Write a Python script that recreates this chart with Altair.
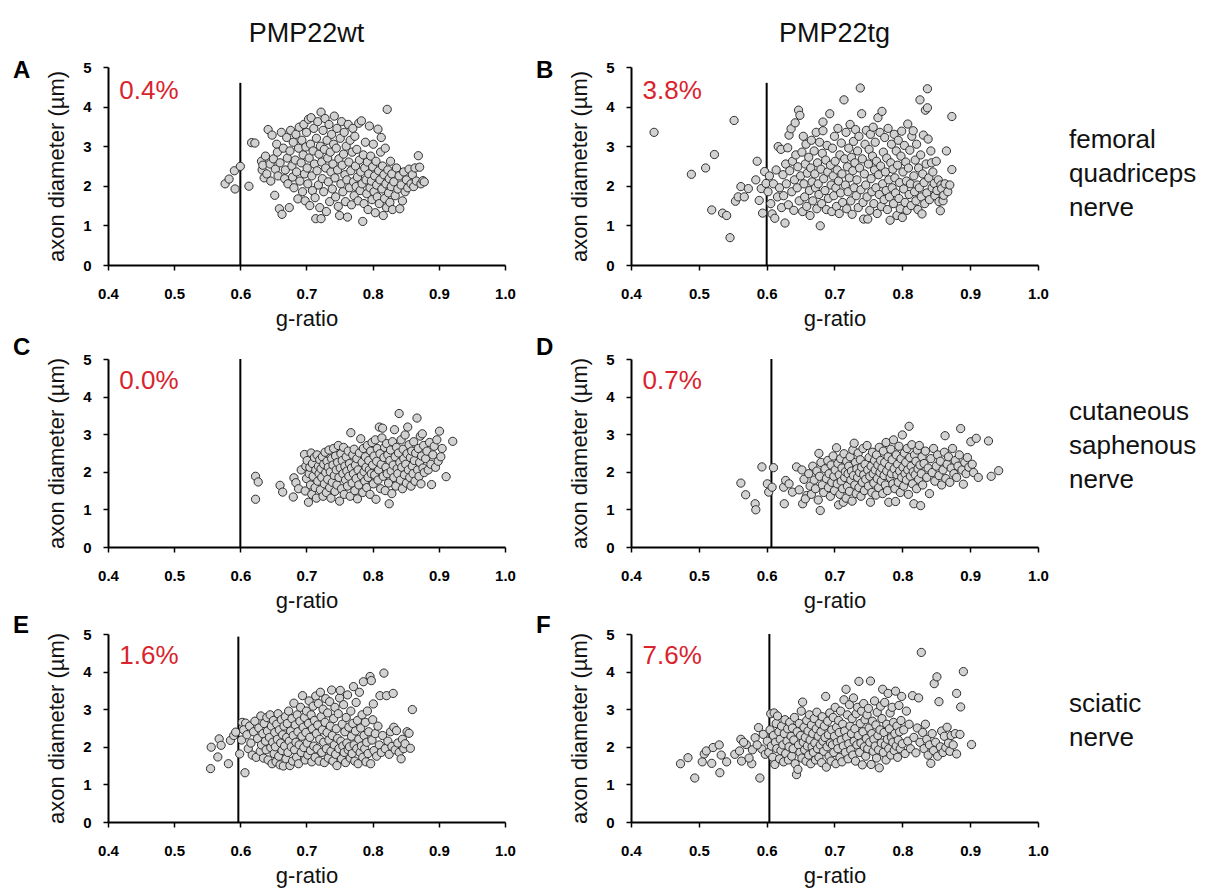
import altair as alt
import pandas as pd

# ---------------- text / tick values ----------------
X_TICKS = [0.4, 0.5, 0.6, 0.7, 0.8, 0.9, 1.0]
Y_TICKS = [0, 1, 2, 3, 4, 5]
COLUMN_TITLES = ["PMP22wt", "PMP22tg"]
ROW_LABELS = [["femoral", "quadriceps", "nerve"],
              ["cutaneous", "saphenous", "nerve"],
              ["sciatic", "nerve"]]
LETTERS = ["A", "B", "C", "D", "E", "F"]
PERCENTS = ["0.4%", "3.8%", "0.0%", "0.7%", "1.6%", "7.6%"]
CUTOFFS = [0.600, 0.600, 0.600, 0.607, 0.597, 0.604]
CUTOFF_TOPS = [4.6, 4.6, 5.0, 5.0, 4.93, 5.0]

# ---------------- scatter values (g-ratio, axon diameter) ----------------
A_PTS = [
    (0.577, 2.05), (0.583, 2.17), (0.591, 2.38), (0.600, 2.49), (0.592, 1.92), (0.613, 1.99), (0.617, 3.09), (0.622, 3.08),
    (0.632, 2.62), (0.633, 2.40), (0.636, 2.20), (0.634, 2.52), (0.638, 2.75), (0.640, 2.30), (0.642, 3.42), (0.645, 2.55),
    (0.646, 2.12), (0.648, 3.28), (0.650, 2.68), (0.652, 1.76), (0.653, 2.42), (0.655, 3.05), (0.656, 2.85), (0.657, 2.25),
    (0.659, 1.42), (0.660, 2.58), (0.662, 3.35), (0.663, 1.28),
    (0.665, 2.95), (0.667, 2.18), (0.668, 2.40), (0.670, 3.22), (0.671, 2.70), (0.672, 2.05), (0.674, 1.45), (0.675, 2.88),
    (0.676, 3.40), (0.678, 2.50), (0.679, 2.22), (0.680, 3.10), (0.681, 1.95), (0.683, 2.65), (0.684, 3.30), (0.685, 2.35),
    (0.687, 1.67), (0.688, 2.95), (0.689, 3.48), (0.690, 2.12),
    (0.692, 2.58), (0.693, 3.15), (0.694, 1.85), (0.695, 2.78), (0.696, 3.55), (0.697, 2.30), (0.698, 1.62), (0.699, 2.98),
    (0.700, 3.35), (0.701, 2.45), (0.702, 2.05), (0.703, 3.68), (0.704, 2.70), (0.705, 1.50), (0.706, 3.05), (0.707, 3.72),
    (0.708, 2.25), (0.709, 1.88), (0.710, 2.88), (0.711, 3.45),
    (0.712, 2.55), (0.713, 1.70), (0.714, 1.17), (0.715, 3.20), (0.716, 2.38), (0.717, 3.62), (0.718, 2.02), (0.719, 2.80),
    (0.720, 1.45), (0.721, 3.00), (0.722, 3.86), (0.722, 1.17), (0.723, 2.60), (0.724, 2.18), (0.725, 3.40), (0.726, 1.85),
    (0.727, 2.92), (0.728, 3.70), (0.729, 2.45), (0.730, 1.35),
    (0.731, 3.15), (0.732, 2.70), (0.733, 2.10), (0.734, 3.55), (0.735, 1.60), (0.736, 2.85), (0.737, 2.35), (0.738, 3.30),
    (0.739, 1.92), (0.740, 2.55), (0.741, 3.05), (0.742, 3.76), (0.743, 2.20), (0.744, 1.72), (0.745, 2.95), (0.746, 3.45),
    (0.747, 2.40), (0.748, 1.48), (0.749, 2.68), (0.750, 1.25),
    (0.751, 3.20), (0.752, 2.05), (0.753, 3.62), (0.754, 2.52), (0.755, 1.85), (0.756, 2.80), (0.757, 3.35), (0.758, 2.28),
    (0.759, 1.60), (0.760, 3.00), (0.761, 2.15), (0.762, 1.21), (0.763, 3.55), (0.764, 2.60), (0.765, 1.95), (0.766, 3.15),
    (0.767, 2.38), (0.768, 1.52), (0.769, 2.85), (0.770, 3.45),
    (0.771, 2.10), (0.772, 1.75), (0.773, 3.25), (0.774, 2.50), (0.775, 1.98), (0.776, 2.92), (0.777, 2.22), (0.778, 1.62),
    (0.779, 3.58), (0.780, 2.65), (0.781, 1.88), (0.782, 2.35), (0.783, 3.64), (0.784, 2.05), (0.785, 1.10), (0.786, 2.78),
    (0.787, 1.55), (0.788, 2.45), (0.789, 3.10), (0.790, 2.15),
    (0.791, 1.80), (0.792, 2.60), (0.793, 1.40), (0.794, 2.30), (0.795, 3.51), (0.796, 1.95), (0.797, 2.75), (0.798, 2.12),
    (0.799, 1.65), (0.800, 2.48), (0.801, 3.05), (0.802, 1.85), (0.803, 2.25), (0.804, 1.32), (0.805, 2.62), (0.806, 2.02),
    (0.807, 1.72), (0.808, 3.43), (0.809, 2.38), (0.810, 1.55),
    (0.811, 2.15), (0.812, 2.85), (0.813, 3.22), (0.814, 1.92), (0.815, 2.50), (0.816, 1.25), (0.817, 2.28), (0.818, 1.68),
    (0.819, 2.95), (0.820, 2.05), (0.821, 1.45), (0.822, 3.93), (0.823, 2.40), (0.824, 1.82), (0.825, 2.18), (0.826, 1.58),
    (0.827, 2.62), (0.828, 1.98), (0.829, 2.30), (0.830, 1.40),
    (0.832, 2.10), (0.834, 1.75), (0.836, 2.45), (0.838, 1.92), (0.840, 2.25), (0.841, 1.42), (0.843, 2.02), (0.845, 1.62),
    (0.847, 2.35), (0.849, 1.85), (0.851, 2.15), (0.853, 1.95), (0.855, 2.42), (0.858, 2.05), (0.860, 2.28), (0.862, 1.98),
    (0.864, 2.45), (0.866, 2.12), (0.869, 2.76), (0.871, 2.47), (0.873, 2.05), (0.876, 2.13), (0.878, 2.10),
]

B_PTS = [
    (0.434, 3.35), (0.489, 2.29), (0.510, 2.45), (0.523, 2.79), (0.519, 1.39), (0.535, 1.31), (0.541, 1.25), (0.546, 0.69),
    (0.552, 3.65), (0.554, 1.61), (0.558, 1.72), (0.562, 1.98), (0.567, 1.72), (0.573, 1.93), (0.586, 2.62), (0.584, 2.15),
    (0.589, 1.63), (0.592, 1.93), (0.594, 1.31), (0.597, 2.36), (0.599, 2.06), (0.602, 1.85), (0.604, 2.25), (0.606, 1.55),
    (0.608, 1.29), (0.610, 2.05), (0.612, 1.18), (0.614, 2.40), (0.616, 1.72),
    (0.617, 2.99), (0.619, 1.95), (0.621, 2.92), (0.622, 1.45), (0.624, 2.28), (0.625, 1.75), (0.627, 1.06), (0.628, 2.55),
    (0.629, 2.05), (0.631, 2.96), (0.632, 1.52), (0.633, 3.28), (0.634, 2.38), (0.636, 3.44), (0.637, 1.85), (0.638, 2.62),
    (0.640, 1.38), (0.641, 2.15), (0.642, 3.59), (0.643, 2.78), (0.645, 1.95), (0.646, 2.48), (0.647, 3.91), (0.648, 1.62),
    (0.649, 3.78), (0.650, 2.25),
    (0.652, 2.85), (0.653, 1.35), (0.654, 3.25), (0.655, 2.05), (0.656, 1.72), (0.657, 2.55), (0.658, 3.05), (0.659, 1.48),
    (0.660, 2.32), (0.662, 2.72), (0.663, 1.88), (0.664, 1.25), (0.665, 2.45), (0.666, 3.15), (0.667, 2.10), (0.668, 1.62),
    (0.670, 2.88), (0.671, 2.30), (0.672, 1.95), (0.673, 3.35), (0.674, 1.42), (0.675, 2.58), (0.676, 2.05), (0.677, 1.78),
    (0.678, 3.10), (0.679, 0.99), (0.680, 2.42),
    (0.681, 1.55), (0.682, 2.82), (0.683, 3.61), (0.683, 3.39), (0.684, 2.18), (0.686, 1.88), (0.687, 2.65), (0.688, 1.40),
    (0.689, 3.02), (0.690, 2.35), (0.691, 1.68), (0.693, 3.82), (0.694, 2.52), (0.695, 2.02), (0.696, 1.35), (0.697, 2.95),
    (0.698, 2.25), (0.699, 1.75), (0.700, 3.25), (0.701, 2.62), (0.702, 1.95), (0.703, 1.48), (0.704, 2.40), (0.705, 3.45),
    (0.706, 2.12), (0.707, 1.30), (0.708, 2.78), (0.709, 1.82), (0.710, 3.08), (0.711, 2.30), (0.712, 1.58), (0.714, 4.17),
    (0.715, 2.68), (0.716, 2.02), (0.717, 3.35), (0.718, 1.42), (0.719, 2.48),
    (0.720, 1.85), (0.721, 2.95), (0.722, 2.20), (0.723, 3.55), (0.724, 1.62), (0.725, 2.72), (0.726, 1.28), (0.727, 2.38),
    (0.728, 3.12), (0.729, 1.95), (0.730, 2.58), (0.731, 3.42), (0.732, 1.75), (0.733, 2.15), (0.734, 2.88), (0.735, 1.45),
    (0.736, 3.25), (0.737, 2.45), (0.738, 4.47), (0.739, 1.90), (0.740, 3.82), (0.741, 2.68), (0.742, 1.58), (0.743, 1.16),
    (0.744, 2.30), (0.745, 3.05), (0.746, 2.02), (0.747, 3.40), (0.748, 1.72), (0.749, 1.16), (0.750, 2.55), (0.751, 2.92),
    (0.752, 1.38), (0.753, 3.30), (0.754, 2.18), (0.755, 1.85), (0.756, 2.75), (0.757, 3.48), (0.758, 1.55), (0.759, 2.40),
    (0.760, 3.10), (0.761, 1.95), (0.762, 2.62), (0.763, 1.30), (0.764, 3.72), (0.765, 2.28), (0.766, 1.78), (0.767, 3.35),
    (0.768, 2.50), (0.769, 1.48), (0.770, 3.88), (0.771, 2.05), (0.772, 2.85), (0.773, 1.65), (0.774, 3.22), (0.775, 2.35),
    (0.776, 1.88), (0.777, 2.70), (0.778, 1.40), (0.779, 3.45), (0.780, 2.15), (0.781, 1.72), (0.782, 1.13), (0.783, 2.58),
    (0.784, 3.05), (0.785, 1.95), (0.786, 2.42), (0.787, 1.55), (0.788, 3.30), (0.789, 2.20), (0.790, 1.82), (0.791, 2.88),
    (0.792, 1.25), (0.793, 2.52), (0.794, 3.15), (0.795, 1.68), (0.796, 2.08), (0.797, 1.42), (0.798, 2.75), (0.799, 3.38),
    (0.800, 1.20), (0.801, 2.35), (0.802, 1.92), (0.803, 3.02), (0.804, 1.58), (0.805, 2.60), (0.806, 2.12), (0.807, 1.38),
    (0.808, 3.56), (0.809, 2.45), (0.810, 1.78), (0.811, 2.90), (0.812, 2.05), (0.813, 1.50), (0.814, 3.25), (0.816, 3.39),
    (0.817, 2.25), (0.818, 1.85), (0.819, 2.65), (0.820, 1.62), (0.821, 3.05), (0.822, 2.02), (0.823, 1.40), (0.824, 2.45),
    (0.825, 1.95), (0.826, 4.17), (0.827, 2.78), (0.828, 1.72), (0.829, 1.29), (0.830, 2.30), (0.831, 3.28), (0.832, 2.08),
    (0.833, 1.55), (0.834, 3.91), (0.835, 2.55), (0.836, 1.82), (0.837, 4.45), (0.837, 3.97), (0.838, 3.18), (0.839, 2.20),
    (0.840, 1.65), (0.842, 2.88), (0.843, 2.58), (0.844, 1.95), (0.845, 2.35), (0.847, 2.06), (0.848, 1.75), (0.850, 2.62),
    (0.851, 1.88), (0.853, 2.15), (0.854, 1.60), (0.856, 1.37), (0.857, 2.02), (0.858, 1.93), (0.860, 1.62), (0.861, 1.76),
    (0.863, 2.05), (0.865, 2.88), (0.867, 1.85), (0.870, 2.02), (0.873, 2.41), (0.873, 3.75),
]

C_PTS = [
    (0.623, 1.88), (0.627, 1.73), (0.623, 1.27), (0.660, 1.64), (0.664, 1.46), (0.681, 1.84), (0.680, 1.33), (0.684, 1.71),
    (0.688, 1.55), (0.692, 2.05),
    (0.697, 2.46), (0.698, 1.49), (0.699, 2.15), (0.700, 1.82), (0.701, 2.30), (0.703, 1.19), (0.704, 1.95), (0.705, 2.12),
    (0.706, 1.65), (0.707, 2.50), (0.708, 1.40), (0.709, 2.22), (0.710, 1.88), (0.712, 2.38), (0.713, 1.58), (0.714, 2.05),
    (0.715, 1.30), (0.716, 2.45), (0.717, 1.75), (0.718, 2.15), (0.719, 1.95), (0.720, 2.32), (0.721, 1.52), (0.722, 2.08),
    (0.723, 1.85), (0.724, 2.40), (0.725, 1.35), (0.726, 2.20), (0.727, 1.68), (0.728, 2.52), (0.729, 1.98), (0.730, 1.45),
    (0.731, 2.28), (0.732, 1.80), (0.733, 2.12), (0.734, 2.58), (0.735, 1.58), (0.736, 2.00), (0.737, 1.30), (0.738, 2.35),
    (0.739, 1.72), (0.740, 2.18), (0.741, 2.62), (0.742, 1.90), (0.743, 1.48), (0.744, 2.42), (0.745, 2.05), (0.746, 1.65),
    (0.747, 2.25), (0.748, 2.70), (0.749, 1.85), (0.750, 1.22), (0.751, 2.10), (0.752, 2.48), (0.753, 1.55), (0.754, 2.30),
    (0.755, 1.95), (0.756, 2.65), (0.757, 1.40), (0.758, 2.15), (0.759, 1.78), (0.760, 2.40), (0.761, 2.02), (0.762, 1.62),
    (0.763, 2.55), (0.764, 1.88), (0.765, 2.22), (0.766, 1.35), (0.767, 3.04), (0.768, 2.10), (0.769, 1.70), (0.770, 2.45),
    (0.771, 1.95), (0.772, 2.60), (0.773, 1.50), (0.774, 2.18), (0.775, 1.82), (0.776, 2.35), (0.777, 1.28), (0.778, 2.05),
    (0.779, 1.65), (0.780, 2.50), (0.782, 2.88), (0.783, 1.90), (0.784, 2.25), (0.785, 1.45), (0.786, 2.62), (0.787, 2.00),
    (0.788, 1.75), (0.789, 2.40), (0.790, 2.12), (0.791, 1.58), (0.792, 2.70), (0.793, 1.85), (0.794, 2.30), (0.795, 2.05),
    (0.796, 1.40), (0.797, 2.55), (0.798, 1.95), (0.799, 2.78), (0.800, 2.18), (0.801, 1.68), (0.802, 2.42), (0.803, 1.92),
    (0.804, 2.85), (0.805, 1.27), (0.806, 2.28), (0.807, 2.62), (0.808, 1.78), (0.809, 2.05), (0.810, 3.19), (0.811, 2.48),
    (0.812, 1.55), (0.813, 2.20), (0.814, 2.90), (0.815, 3.16), (0.816, 1.88), (0.817, 2.38), (0.818, 2.65), (0.819, 1.50),
    (0.820, 2.12), (0.821, 2.75), (0.822, 1.95), (0.823, 2.45), (0.824, 1.70), (0.825, 1.15), (0.826, 2.30), (0.827, 2.58),
    (0.828, 2.02), (0.829, 1.42), (0.830, 2.80), (0.831, 2.18), (0.832, 1.85), (0.833, 3.12), (0.834, 2.40), (0.835, 1.62),
    (0.836, 2.65), (0.837, 2.08), (0.838, 1.95), (0.839, 2.50), (0.840, 3.55), (0.841, 2.25), (0.842, 1.78), (0.843, 2.85),
    (0.844, 2.12), (0.845, 1.55), (0.846, 2.60), (0.847, 2.35), (0.848, 1.92), (0.849, 2.98), (0.850, 2.20), (0.851, 1.70),
    (0.852, 2.48), (0.853, 3.19), (0.854, 2.05), (0.855, 2.72), (0.856, 1.85), (0.857, 2.38), (0.858, 1.62), (0.859, 2.55),
    (0.860, 2.15), (0.861, 1.95), (0.862, 2.80), (0.863, 2.30), (0.864, 1.75), (0.865, 2.50), (0.867, 3.43), (0.868, 2.05),
    (0.869, 2.62), (0.870, 1.88), (0.871, 2.25), (0.872, 2.95), (0.873, 1.68), (0.874, 2.42), (0.875, 3.01), (0.876, 2.10),
    (0.877, 2.70), (0.878, 1.98), (0.880, 2.35), (0.882, 2.55), (0.884, 2.05), (0.886, 2.78), (0.888, 2.20), (0.889, 1.66),
    (0.891, 2.45), (0.893, 2.68), (0.895, 2.12), (0.897, 2.85), (0.899, 2.28), (0.901, 3.08), (0.903, 2.40), (0.905, 2.62),
    (0.911, 1.87), (0.921, 2.81),
]

D_PTS = [
    (0.562, 1.70), (0.569, 1.39), (0.583, 1.15), (0.584, 0.99), (0.593, 2.13), (0.610, 2.11), (0.601, 1.68), (0.603, 1.46),
    (0.608, 1.59), (0.626, 1.15), (0.625, 1.59), (0.628, 1.77), (0.633, 1.68), (0.638, 1.46), (0.644, 2.13), (0.653, 1.15),
    (0.659, 1.37), (0.679, 0.97), (0.677, 2.49), (0.648, 1.52), (0.652, 2.05), (0.655, 1.80), (0.657, 1.28), (0.662, 1.95),
    (0.664, 1.62),
    (0.666, 1.40), (0.668, 2.15), (0.670, 1.78), (0.672, 1.55), (0.674, 2.02), (0.676, 1.25), (0.678, 1.88), (0.680, 2.25),
    (0.682, 1.65), (0.684, 1.45), (0.686, 2.08), (0.688, 1.82), (0.690, 2.30), (0.691, 1.58), (0.692, 1.95), (0.694, 1.35),
    (0.695, 2.18), (0.696, 1.72), (0.698, 2.42), (0.699, 1.88), (0.700, 1.50), (0.701, 2.05), (0.703, 2.64), (0.704, 1.68),
    (0.705, 2.22), (0.706, 1.12), (0.707, 1.92), (0.708, 1.40), (0.709, 2.35), (0.710, 1.75), (0.711, 2.10), (0.712, 1.55),
    (0.713, 1.19), (0.714, 2.48), (0.715, 1.85), (0.716, 2.00), (0.717, 1.30), (0.718, 2.28), (0.719, 1.62), (0.720, 1.95),
    (0.721, 2.15), (0.722, 1.48), (0.723, 2.40), (0.724, 1.78), (0.725, 2.02), (0.726, 1.22), (0.727, 2.58), (0.728, 1.90),
    (0.729, 2.76), (0.730, 1.65), (0.731, 2.25), (0.732, 1.42), (0.733, 2.08), (0.734, 1.85), (0.735, 2.50), (0.736, 1.58),
    (0.737, 1.98), (0.738, 2.32), (0.739, 1.35), (0.740, 2.12), (0.741, 1.72), (0.742, 2.62), (0.743, 1.92), (0.744, 1.50),
    (0.745, 2.20), (0.746, 1.80), (0.748, 2.70), (0.749, 2.05), (0.750, 1.62), (0.751, 2.38), (0.752, 1.88), (0.753, 1.19),
    (0.754, 2.15), (0.755, 1.45), (0.756, 2.52), (0.757, 1.95), (0.758, 1.70), (0.759, 2.30), (0.760, 2.05), (0.761, 1.38),
    (0.762, 2.45), (0.763, 1.82), (0.764, 2.18), (0.765, 1.58), (0.766, 2.65), (0.767, 1.98), (0.768, 2.30), (0.769, 1.75),
    (0.770, 2.10), (0.771, 1.42), (0.772, 2.55), (0.773, 1.90), (0.774, 2.25), (0.775, 1.65), (0.776, 2.78), (0.777, 2.02),
    (0.778, 1.50), (0.779, 2.40), (0.780, 1.19), (0.781, 2.15), (0.782, 1.85), (0.783, 2.60), (0.784, 1.95), (0.785, 2.32),
    (0.786, 1.68), (0.787, 2.85), (0.788, 2.08), (0.789, 1.55), (0.790, 1.21), (0.791, 2.45), (0.792, 1.92), (0.793, 2.20),
    (0.794, 1.72), (0.795, 2.68), (0.796, 2.02), (0.797, 1.45), (0.798, 2.35), (0.799, 1.85), (0.800, 2.98), (0.801, 2.12),
    (0.802, 1.62), (0.803, 2.50), (0.804, 1.95), (0.805, 2.25), (0.806, 1.78), (0.807, 2.62), (0.808, 2.05), (0.809, 1.40),
    (0.810, 3.21), (0.811, 2.38), (0.812, 1.88), (0.813, 2.15), (0.814, 2.72), (0.815, 1.68), (0.816, 2.00), (0.817, 1.15),
    (0.818, 2.45), (0.819, 1.92), (0.820, 2.28), (0.821, 1.55), (0.822, 2.58), (0.823, 2.08), (0.824, 1.80), (0.825, 2.70),
    (0.826, 2.18), (0.827, 1.10), (0.828, 1.95), (0.829, 2.40), (0.830, 1.65), (0.832, 2.22), (0.834, 2.55), (0.836, 1.85),
    (0.838, 2.10), (0.840, 1.42), (0.842, 2.35), (0.844, 1.98), (0.846, 2.62), (0.848, 1.75), (0.850, 2.15), (0.852, 2.45),
    (0.854, 1.90), (0.856, 2.28), (0.858, 1.65), (0.860, 2.05), (0.862, 2.52), (0.863, 2.96), (0.864, 1.82), (0.866, 2.20),
    (0.868, 2.40), (0.870, 1.72), (0.872, 2.10), (0.874, 2.62), (0.876, 1.95), (0.878, 2.30), (0.880, 1.85), (0.882, 2.15),
    (0.884, 2.45), (0.886, 3.15), (0.888, 2.05), (0.890, 1.67), (0.892, 2.25), (0.894, 1.95), (0.896, 2.38), (0.898, 2.12),
    (0.901, 2.80), (0.903, 2.20), (0.905, 1.98), (0.909, 2.89), (0.912, 1.85), (0.927, 2.82), (0.931, 1.88), (0.942, 2.03),
]

E_PTS = [
    (0.555, 1.42), (0.556, 1.99), (0.566, 1.73), (0.568, 2.21), (0.571, 2.04), (0.582, 1.55), (0.585, 2.17), (0.590, 2.30),
    (0.593, 2.39), (0.599, 1.81), (0.607, 1.31), (0.603, 2.65), (0.608, 2.63), (0.602, 2.18), (0.605, 2.45),
    (0.610, 2.32), (0.612, 1.95), (0.614, 2.55), (0.616, 2.10), (0.618, 1.78), (0.620, 2.40), (0.622, 2.68), (0.624, 1.72),
    (0.626, 2.22), (0.628, 2.50), (0.630, 1.88), (0.631, 2.82), (0.632, 2.05), (0.634, 2.35), (0.635, 1.70), (0.636, 2.62),
    (0.638, 2.15), (0.639, 1.92), (0.640, 2.78), (0.641, 2.42), (0.642, 1.65), (0.644, 2.25), (0.645, 2.85), (0.646, 1.98),
    (0.647, 2.55), (0.648, 1.55), (0.649, 2.12), (0.650, 2.70), (0.651, 1.82), (0.652, 2.38), (0.653, 2.00), (0.654, 1.60),
    (0.655, 2.60), (0.656, 2.20), (0.657, 2.88), (0.658, 1.75), (0.659, 2.45), (0.660, 1.52), (0.661, 2.10), (0.662, 2.72),
    (0.663, 1.90), (0.664, 2.32), (0.665, 1.49), (0.666, 2.55), (0.667, 2.02), (0.668, 2.80), (0.669, 1.68), (0.670, 2.25),
    (0.671, 2.62), (0.672, 1.85), (0.673, 2.95), (0.674, 2.15), (0.675, 1.50), (0.676, 2.42), (0.677, 2.00), (0.678, 2.75),
    (0.679, 1.62), (0.680, 2.30), (0.681, 3.16), (0.682, 1.92), (0.683, 2.58), (0.684, 2.12), (0.685, 1.72), (0.686, 2.85),
    (0.687, 2.40), (0.688, 1.55), (0.689, 2.05), (0.690, 2.68), (0.691, 3.05), (0.692, 1.85), (0.693, 2.28), (0.694, 3.36),
    (0.695, 2.52), (0.696, 1.98), (0.697, 2.78), (0.698, 1.65), (0.699, 2.38), (0.700, 2.95), (0.701, 2.10), (0.702, 1.78),
    (0.703, 2.62), (0.704, 3.22), (0.705, 2.25), (0.706, 1.90), (0.707, 2.85), (0.708, 1.60), (0.709, 2.48), (0.710, 3.08),
    (0.711, 2.02), (0.712, 2.70), (0.713, 1.72), (0.714, 3.35), (0.715, 2.35), (0.716, 1.95), (0.717, 2.58), (0.718, 3.15),
    (0.719, 1.62), (0.720, 2.20), (0.721, 3.45), (0.722, 2.80), (0.723, 1.85), (0.724, 2.45), (0.725, 3.00), (0.726, 2.12),
    (0.727, 1.58), (0.728, 2.65), (0.729, 3.28), (0.730, 1.95), (0.731, 2.38), (0.732, 2.90), (0.733, 1.70), (0.734, 2.18),
    (0.735, 3.20), (0.736, 2.55), (0.737, 1.88), (0.738, 3.51), (0.739, 2.30), (0.740, 1.62), (0.741, 2.75), (0.742, 2.05),
    (0.743, 3.05), (0.744, 1.80), (0.745, 2.48), (0.746, 1.50), (0.747, 2.22), (0.748, 2.88), (0.749, 1.95), (0.750, 3.30),
    (0.751, 3.50), (0.752, 2.15), (0.753, 1.68), (0.754, 2.60), (0.755, 2.02), (0.756, 3.12), (0.757, 1.85), (0.758, 2.40),
    (0.759, 1.58), (0.760, 2.78), (0.761, 2.10), (0.762, 3.38), (0.763, 1.92), (0.764, 2.52), (0.765, 2.00), (0.766, 1.70),
    (0.767, 2.95), (0.768, 2.28), (0.769, 1.82), (0.770, 2.62), (0.771, 3.60), (0.772, 2.05), (0.773, 1.62), (0.774, 2.42),
    (0.775, 3.18), (0.776, 1.95), (0.777, 2.70), (0.778, 1.55), (0.779, 2.20), (0.780, 3.45), (0.781, 1.85), (0.782, 2.50),
    (0.783, 2.02), (0.784, 2.85), (0.785, 1.72), (0.786, 3.73), (0.787, 2.30), (0.788, 1.95), (0.789, 2.65), (0.790, 1.60),
    (0.791, 2.12), (0.792, 2.95), (0.793, 1.82), (0.794, 2.40), (0.796, 3.87), (0.797, 1.55), (0.798, 3.76), (0.799, 2.18),
    (0.800, 2.72), (0.801, 3.14), (0.802, 1.90), (0.804, 2.35), (0.806, 1.75), (0.808, 2.55), (0.810, 2.05), (0.811, 3.36),
    (0.813, 1.85), (0.815, 2.30), (0.817, 3.96), (0.819, 1.95), (0.821, 3.36), (0.823, 2.15), (0.825, 1.80), (0.827, 2.40),
    (0.829, 2.01), (0.831, 3.42), (0.832, 2.52), (0.834, 1.92), (0.836, 2.43), (0.838, 2.10), (0.840, 1.85), (0.843, 1.68),
    (0.845, 2.20), (0.847, 1.95), (0.849, 2.08), (0.852, 2.40), (0.855, 2.36), (0.857, 1.96), (0.860, 2.99),
]

F_PTS = [
    (0.473, 1.55), (0.484, 1.71), (0.494, 1.17), (0.505, 1.60), (0.508, 1.81), (0.511, 1.89), (0.519, 1.56), (0.521, 1.98),
    (0.531, 1.31), (0.530, 2.05), (0.533, 1.78), (0.541, 1.60), (0.553, 1.80), (0.560, 1.89), (0.562, 2.20), (0.563, 1.62),
    (0.570, 2.06), (0.578, 1.55), (0.579, 1.92), (0.583, 2.24), (0.588, 2.51), (0.590, 1.17), (0.593, 1.94), (0.595, 2.33),
    (0.598, 1.80), (0.586, 2.05), (0.574, 1.70), (0.566, 2.12),
    (0.601, 2.15), (0.603, 1.85), (0.605, 2.45), (0.606, 2.88), (0.607, 2.02), (0.609, 1.72), (0.610, 2.30), (0.611, 2.90),
    (0.612, 1.53), (0.613, 2.12), (0.614, 2.62), (0.615, 1.95), (0.616, 2.82), (0.618, 2.40), (0.619, 1.68), (0.620, 2.20),
    (0.621, 1.90), (0.622, 2.55), (0.624, 2.05), (0.625, 1.60), (0.626, 2.35), (0.627, 2.72), (0.628, 1.82), (0.630, 2.15),
    (0.631, 2.48), (0.632, 1.65), (0.633, 2.00), (0.634, 2.65), (0.636, 2.28), (0.637, 1.75), (0.638, 2.50), (0.639, 1.95),
    (0.640, 2.18), (0.641, 2.78), (0.642, 1.55), (0.644, 1.26), (0.645, 2.40), (0.646, 1.40), (0.647, 2.05), (0.648, 2.62),
    (0.649, 1.85), (0.650, 2.30), (0.651, 2.95), (0.652, 1.70), (0.653, 3.19), (0.654, 2.12), (0.655, 2.52), (0.656, 1.92),
    (0.657, 2.25), (0.658, 1.62), (0.659, 2.70), (0.660, 2.02), (0.661, 2.42), (0.662, 1.78), (0.663, 2.85), (0.664, 2.18),
    (0.665, 1.55), (0.666, 2.58), (0.667, 2.00), (0.668, 2.35), (0.669, 1.85), (0.670, 2.75), (0.671, 2.10), (0.672, 1.65),
    (0.673, 2.48), (0.674, 2.92), (0.675, 1.95), (0.676, 2.28), (0.677, 1.72), (0.678, 2.62), (0.679, 2.05), (0.680, 2.40),
    (0.681, 1.58), (0.682, 2.80), (0.683, 2.15), (0.684, 1.88), (0.685, 2.55), (0.686, 2.25), (0.687, 3.34), (0.688, 1.46),
    (0.689, 2.00), (0.690, 2.68), (0.691, 2.32), (0.692, 1.75), (0.693, 2.90), (0.694, 2.10), (0.695, 1.62), (0.696, 2.45),
    (0.697, 2.05), (0.698, 2.78), (0.699, 1.85), (0.700, 2.28), (0.701, 3.05), (0.702, 1.55), (0.703, 2.52), (0.704, 2.12),
    (0.705, 1.95), (0.706, 2.70), (0.707, 2.38), (0.708, 1.72), (0.709, 2.95), (0.710, 2.18), (0.711, 1.60), (0.712, 2.60),
    (0.713, 2.02), (0.714, 3.25), (0.715, 2.42), (0.716, 1.85), (0.717, 3.53), (0.718, 2.25), (0.719, 2.85), (0.720, 1.68),
    (0.721, 2.08), (0.722, 3.12), (0.723, 2.55), (0.724, 1.92), (0.725, 2.35), (0.726, 2.75), (0.727, 1.78), (0.728, 3.30),
    (0.729, 2.15), (0.730, 2.48), (0.731, 1.62), (0.732, 2.88), (0.733, 2.05), (0.734, 3.05), (0.735, 2.30), (0.736, 3.74),
    (0.737, 1.85), (0.738, 2.62), (0.739, 2.10), (0.740, 2.95), (0.741, 1.52), (0.742, 2.40), (0.743, 3.15), (0.744, 2.00),
    (0.745, 2.72), (0.746, 1.75), (0.747, 2.22), (0.748, 2.85), (0.749, 1.95), (0.750, 3.02), (0.751, 2.50), (0.752, 2.12),
    (0.753, 3.75), (0.754, 1.53), (0.755, 2.35), (0.756, 2.68), (0.757, 1.88), (0.758, 2.20), (0.759, 3.22), (0.760, 2.02),
    (0.761, 2.58), (0.762, 1.70), (0.763, 2.92), (0.764, 2.30), (0.765, 1.92), (0.766, 1.44), (0.767, 2.45), (0.768, 3.08),
    (0.769, 2.10), (0.770, 2.75), (0.771, 3.53), (0.772, 1.85), (0.773, 2.38), (0.774, 3.18), (0.775, 2.05), (0.776, 1.65),
    (0.777, 2.60), (0.778, 2.20), (0.779, 3.42), (0.780, 1.95), (0.781, 2.48), (0.782, 2.90), (0.783, 1.78), (0.784, 2.25),
    (0.785, 3.05), (0.786, 2.12), (0.787, 2.65), (0.788, 1.90), (0.789, 2.35), (0.790, 3.48), (0.791, 2.02), (0.792, 2.55),
    (0.793, 1.72), (0.794, 2.18), (0.795, 3.10), (0.796, 2.40), (0.797, 1.95), (0.798, 2.70), (0.799, 3.34), (0.800, 2.08),
    (0.802, 2.45), (0.804, 1.82), (0.806, 2.95), (0.808, 2.15), (0.810, 2.60), (0.812, 1.95), (0.815, 3.36), (0.817, 2.25),
    (0.820, 1.84), (0.822, 2.50), (0.824, 3.30), (0.826, 2.12), (0.828, 4.51), (0.830, 2.38), (0.832, 1.95), (0.834, 2.60),
    (0.836, 2.20), (0.838, 1.78), (0.840, 2.05), (0.842, 1.56), (0.844, 2.35), (0.846, 1.90), (0.847, 3.68), (0.849, 2.12),
    (0.851, 3.86), (0.852, 1.75), (0.854, 3.20), (0.856, 2.00), (0.858, 2.42), (0.860, 1.85), (0.862, 2.28), (0.864, 1.98),
    (0.866, 2.52), (0.868, 2.10), (0.870, 1.88), (0.872, 2.30), (0.875, 2.05), (0.878, 2.35), (0.880, 1.81), (0.880, 3.42),
    (0.885, 2.33), (0.886, 3.06), (0.890, 4.00), (0.902, 2.06),
]

# ---------------- style ----------------
FONT = "Liberation Sans"
POINT_FILL = "#d2d2d2"
POINT_STROKE = "#2e2e2e"
RED = "#d9232d"


def panel(i, pts, width, height, letter_dy, title=None, rowlabel=None, rowlabel_dy=0):
    x = alt.X("g:Q", scale=alt.Scale(domain=[0.4, 1.0], nice=False, zero=False),
              axis=alt.Axis(values=X_TICKS, format=".1f", title="g-ratio"))
    y = alt.Y("d:Q", scale=alt.Scale(domain=[0, 5], nice=False),
              axis=alt.Axis(values=Y_TICKS, format="d", title="axon diameter (µm)"))

    rule_df = pd.DataFrame({"g": [CUTOFFS[i]], "d": [0.0], "d2": [CUTOFF_TOPS[i]]})
    rule = alt.Chart(rule_df).mark_rule(color="black", strokeWidth=2).encode(
        x=x, y=y, y2="d2:Q")

    df = pd.DataFrame(pts, columns=["g", "d"])
    points = alt.Chart(df).mark_circle(
        size=68, fill=POINT_FILL, stroke=POINT_STROKE, strokeWidth=1, opacity=1
    ).encode(x=x, y=y)

    pct_df = pd.DataFrame({"g": [0.417], "d": [4.2], "t": [PERCENTS[i]]})
    pct = alt.Chart(pct_df).mark_text(
        align="left", baseline="alphabetic", font=FONT, fontSize=26, color=RED
    ).encode(x=x, y=y, text="t:N")

    letter = alt.Chart(pd.DataFrame({"t": [LETTERS[i]]})).mark_text(
        align="left", baseline="alphabetic", font=FONT, fontSize=24, fontWeight="bold", color="black"
    ).encode(x=alt.value(-95), y=alt.value(letter_dy), text="t:N")

    layers = [rule, points, pct, letter]

    if title is not None:
        ttl = alt.Chart(pd.DataFrame({"t": [title]})).mark_text(
            align="center", baseline="alphabetic", font=FONT, fontSize=27, color="#111111"
        ).encode(x=alt.value(width / 2), y=alt.value(-25), text="t:N")
        layers.append(ttl)

    if rowlabel is not None:
        rl = alt.Chart(pd.DataFrame({"k": [0]})).mark_text(
            align="left", baseline="alphabetic", font=FONT, fontSize=26, color="#111111",
            lineHeight=34, text=rowlabel
        ).encode(x=alt.value(width + 31), y=alt.value(rowlabel_dy))
        layers.append(rl)

    return alt.layer(*layers).properties(width=width, height=height)


LW, RW = 397, 407
pA = panel(0, A_PTS, LW, 198, 11, title=COLUMN_TITLES[0])
pB = panel(1, B_PTS, RW, 198, 11, title=COLUMN_TITLES[1], rowlabel=ROW_LABELS[0], rowlabel_dy=81)
pC = panel(2, C_PTS, LW, 188, -4)
pD = panel(3, D_PTS, RW, 188, -4, rowlabel=ROW_LABELS[1], rowlabel_dy=61)
pE = panel(4, E_PTS, LW, 188, -1)
pF = panel(5, F_PTS, RW, 188, -1, rowlabel=ROW_LABELS[2], rowlabel_dy=78)

row1 = alt.hconcat(pA, pB, spacing=20)
row2 = alt.hconcat(pC, pD, spacing=20)
row3 = alt.hconcat(pE, pF, spacing=20)

chart = alt.vconcat(row1, alt.vconcat(row2, row3, spacing=3), spacing=7).properties(
    padding={"left": 5, "top": 12, "right": 2, "bottom": 2},
    background="white",
).configure_view(
    stroke=None
).configure_axis(
    grid=False,
    labelFlush=False,
    domainColor="black", domainWidth=2,
    tickColor="black", tickWidth=1.5, tickSize=5,
    labelFont=FONT, labelFontWeight="bold", labelFontSize=15, labelColor="black",
    titleFont=FONT, titleFontWeight="normal", titleFontSize=22, titleColor="#111111",
).configure_axisX(
    labelPadding=16, titlePadding=7
).configure_axisY(
    labelPadding=12, titlePadding=14
)

chart.save("out.html", embed_options={"renderer": "svg", "actions": False})
